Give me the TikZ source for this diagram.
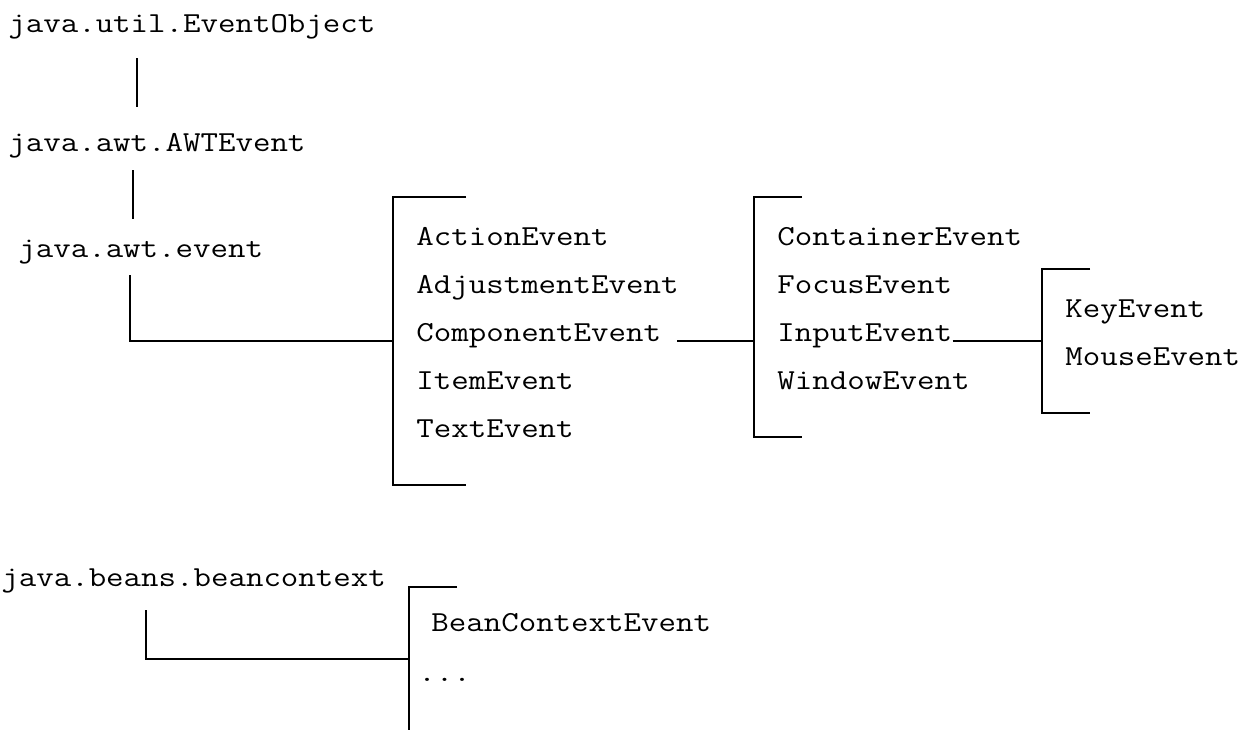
\documentclass[tikz,border=0pt]{standalone}
\usepackage{fontspec}
\setmonofont[FakeStretch=1.17]{Latin Modern Mono}

\begin{document}
\begin{tikzpicture}[x=0.5pt,y=-0.5pt]
\tikzset{ClassStyle/.style ={anchor=base west, inner sep=0, font=\ttfamily\fontsize{14.5}{17}\selectfont}}
\tikzset{EdgeStyle/.style ={line width=0.9pt}}
\useasboundingbox (0,0) rectangle (1251,730);
\node[ClassStyle] (evobj) at (8,32) {java.util.EventObject};
\node[ClassStyle] (awtev) at (8,151) {java.awt.AWTEvent};
\node[ClassStyle] (awtpkg) at (18,257) {java.awt.event};
\node[ClassStyle] (action) at (416,245) {ActionEvent};
\node[ClassStyle] (adjust) at (416,293) {AdjustmentEvent};
\node[ClassStyle] (comp) at (416,341) {ComponentEvent};
\node[ClassStyle] (item) at (416,389) {ItemEvent};
\node[ClassStyle] (text) at (416,437) {TextEvent};
\node[ClassStyle] (contain) at (777,245) {ContainerEvent};
\node[ClassStyle] (focus) at (777,293) {FocusEvent};
\node[ClassStyle] (input) at (777,341) {InputEvent};
\node[ClassStyle] (window) at (777,389) {WindowEvent};
\node[ClassStyle] (key) at (1065,317) {KeyEvent};
\node[ClassStyle] (mouse) at (1065,365) {MouseEvent};
\node[ClassStyle] (beanpkg) at (1,586) {java.beans.beancontext};
\node[ClassStyle] (beanev) at (431,631) {BeanContextEvent};
\node[ClassStyle] (more) at (418,681) {...};
\coordinate (upA) at (137,58);
\coordinate (upB) at (137,107);
\coordinate (awtA) at (133,170);
\coordinate (awtB) at (133,219);
\coordinate (pkgA) at (130,275);
\coordinate (beanA) at (146,610);
\coordinate (b1tr) at (466,197);
\coordinate (b1tl) at (393,197);
\coordinate (b1mid) at (393,341);
\coordinate (b1bl) at (393,485);
\coordinate (b1br) at (466,485);
\coordinate (b2tr) at (802,197);
\coordinate (b2tl) at (754,197);
\coordinate (b2mid) at (754,341);
\coordinate (b2bl) at (754,437);
\coordinate (b2br) at (802,437);
\coordinate (b3tr) at (1090,269);
\coordinate (b3tl) at (1042,269);
\coordinate (b3mid) at (1042,341);
\coordinate (b3bl) at (1042,413);
\coordinate (b3br) at (1090,413);
\coordinate (b4tr) at (457,587);
\coordinate (b4tl) at (409,587);
\coordinate (b4mid) at (409,659);
\coordinate (b4bl) at (409,730);
\draw[EdgeStyle] (upA) -- (upB);
\draw[EdgeStyle] (awtA) -- (awtB);
\draw[EdgeStyle] (pkgA) |- (b1mid);
\draw[EdgeStyle] (b1tr) -- (b1tl) -- (b1bl) -- (b1br);
\draw[EdgeStyle] ([xshift=8pt]comp.base east) -- (b2mid);
\draw[EdgeStyle] (b2tr) -- (b2tl) -- (b2bl) -- (b2br);
\draw[EdgeStyle] (input.base east) -- (b3mid);
\draw[EdgeStyle] (b3tr) -- (b3tl) -- (b3bl) -- (b3br);
\draw[EdgeStyle] (beanA) |- (b4mid);
\draw[EdgeStyle] (b4tr) -- (b4tl) -- (b4bl);
\end{tikzpicture}
\end{document}
